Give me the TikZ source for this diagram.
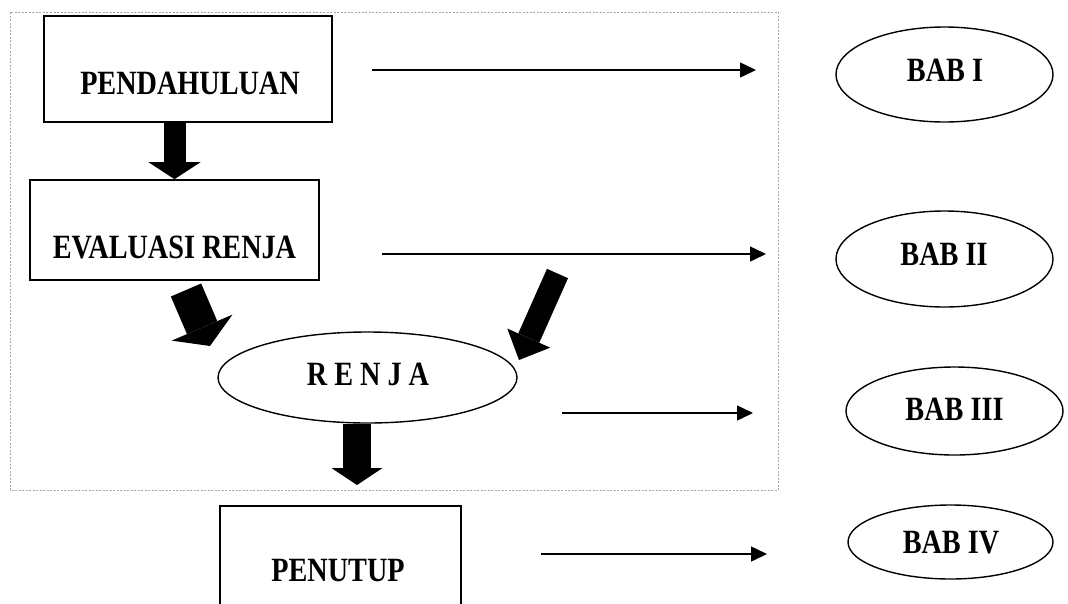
\documentclass[tikz,border=0pt]{standalone}
\usepackage{fontspec}
\newfontfamily\babfont[FakeStretch=0.83]{Liberation Serif}
\usetikzlibrary{arrows.meta,shapes.geometric}

\begin{document}
\begin{tikzpicture}[x=1pt,y=-1pt,
  box/.style={draw,line width=1.6pt,inner sep=0pt},
  oval/.style={draw,ellipse,line width=1.4pt,inner sep=0pt},
  txt/.style={font=\babfont\bfseries\fontsize{34}{36}\selectfont,inner sep=0pt},
  tobab/.style={line width=1.5pt,-{Triangle[length=16pt,width=15pt]}},
  fat/.style args={#1/#2/#3}{line width=#1,-{Triangle[length=#2,width=#3,line width=0pt]}}]
\useasboundingbox (0,0) rectangle (1068,603);
\draw[gray!70,line width=0.6pt,dash pattern=on 2pt off 1.5pt] (10,12) rectangle (778,490);

\node[box,minimum width=288pt,minimum height=106pt] (pend) at (188,69) {};
\node[txt] (pendt) at (190,83) {PENDAHULUAN};
\node[box,minimum width=289pt,minimum height=100pt] (eval) at (174.5,230) {};
\node[txt] (evalt) at (174.5,247) {EVALUASI RENJA};
\node[oval,minimum width=299pt,minimum height=91pt] (renja) at (367.5,377.5) {};
\node[txt] (renjat) at (368,374) {R E N J A};
\node[box,minimum width=241pt,minimum height=140pt,anchor=north west] (pen) at (219,505) {};
\node[txt] (pent) at (338,571) {PENUTUP};

\node[oval,minimum width=217pt,minimum height=95pt] (b1) at (944.5,74.5) {};
\node[txt] (b1t) at (945,70) {BAB I};
\node[oval,minimum width=217pt,minimum height=96pt] (b2) at (944.5,259) {};
\node[txt] (b2t) at (944,254) {BAB II};
\node[oval,minimum width=217pt,minimum height=88pt] (b3) at (954.5,411) {};
\node[txt] (b3t) at (954.5,409) {BAB III};
\node[oval,minimum width=205pt,minimum height=74pt] (b4) at (950.5,542) {};
\node[txt] (b4t) at (951,543) {BAB IV};

\coordinate (a1) at (372,70);  \coordinate (a1e) at (756,70);
\coordinate (a2) at (382,254); \coordinate (a2e) at (766,254);
\coordinate (a3) at (562,413); \coordinate (a3e) at (753,413);
\coordinate (a4) at (541,554); \coordinate (a4e) at (767,554);
\draw[tobab] (a1) -- (a1e);
\draw[tobab] (a2) -- (a2e);
\draw[tobab] (a3) -- (a3e);
\draw[tobab] (a4) -- (a4e);

\coordinate (dl) at (186,290); \coordinate (dle) at (210,346);
\coordinate (dr) at (557.5,273.5); \coordinate (dre) at (519,360);
\coordinate (dn) at (357,485);
\draw[fat=22pt/17pt/52pt] (pend.south -| eval.north) -- (eval.north);
\draw[fat=33pt/20pt/66pt] (dl) -- (dle);
\draw[fat=23pt/24pt/47pt] (dr) -- (dre);
\draw[fat=28pt/17pt/51pt] (renja.south -| dn) -- (dn);
\end{tikzpicture}
\end{document}
